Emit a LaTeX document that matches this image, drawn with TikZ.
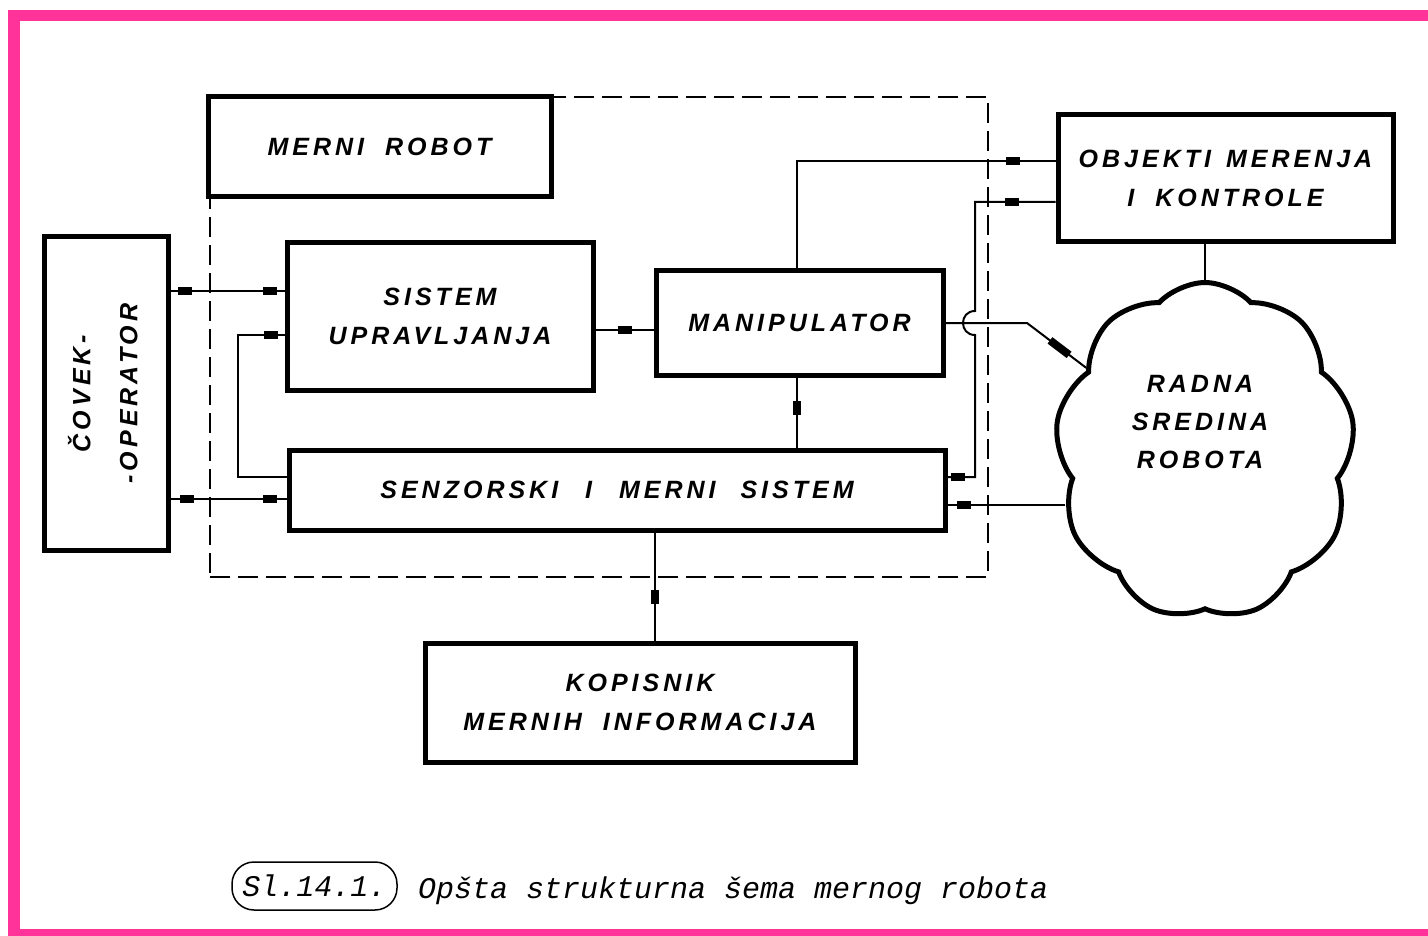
\documentclass[tikz,border=0pt]{standalone}
\usepackage{fontspec}
\setmainfont{Liberation Sans}
\newfontfamily\lblfont[LetterSpace=16]{Liberation Sans}
\newfontfamily\captfont{Liberation Mono}
\usetikzlibrary{shapes.symbols,calc}
\definecolor{framepink}{RGB}{255,51,153}
\tikzset{
  box/.style={draw, line width=5pt, inner sep=0pt, align=center, fill=white,
    font=\lblfont\bfseries\itshape\fontsize{25}{39}\selectfont},
  lbl/.style={inner sep=0pt, align=center, font=\lblfont\bfseries\itshape\fontsize{25}{38}\selectfont},
  conn/.style={line width=2pt},
  mk/.style={fill=black, inner sep=0pt, minimum width=14pt, minimum height=8pt, sloped, allow upside down},
  robframe/.style={draw, line width=2pt, dash pattern=on 20pt off 8pt, inner sep=0pt},
  captstyle/.style={inner sep=0pt, font=\captfont\itshape\fontsize{30}{36}\selectfont},
}
\begin{document}
\begin{tikzpicture}[x=1pt,y=-1pt]
\useasboundingbox (0,0) rectangle (1428,936);
% pink frame
\fill[framepink] (8,10) rectangle (1428,21);
\fill[framepink] (8,10) rectangle (20,936);
\fill[framepink] (8,929) rectangle (1428,936);

% dashed robot frame
\node[robframe, minimum width=778pt, minimum height=480pt] (rob) at (599,337) {};

% boxes
\node[box, minimum width=343pt, minimum height=100pt] (merni) at (379.5,147) {MERNI\hspace{10pt} ROBOT};
\node[box, minimum width=124pt, minimum height=313pt] (covek) at (106,393.5)
  {\rotatebox{90}{\begin{tabular}{@{}c@{}}ČOVEK-\\[8pt]-OPERATOR\end{tabular}}};
\node[box, minimum width=306pt, minimum height=147pt] (sistem) at (440,316.5) {SISTEM\\UPRAVLJANJA};
\node[box, minimum width=287pt, minimum height=104pt] (manip) at (799.5,323) {MANIPULATOR};
\node[box, minimum width=656pt, minimum height=80pt] (senz) at (617,490)
  {SENZORSKI\hspace{16pt} I\hspace{16pt} MERNI\hspace{14pt} SISTEM};
\node[box, minimum width=335pt, minimum height=127pt] (objekti) at (1225.5,178.5)
  {OBJEKTI\hspace{4pt} MERENJA\\I\hspace{10pt} KONTROLE};
\node[box, minimum width=430pt, minimum height=119pt] (kopis) at (640,702.5)
  {KOPISNIK\\MERNIH\hspace{10pt} INFORMACIJA};
\node[cloud, draw, line width=5pt, cloud puffs=9, cloud puff arc=95, aspect=0.9,
  minimum width=300pt, minimum height=337pt, inner sep=0pt, fill=white] (env) at (1205,451) {};
\node[lbl] (envtxt) at (1200,422) {RADNA\\SREDINA\\ROBOTA};

% helper coordinates
\coordinate (yA) at (0,291);
\coordinate (yB) at (0,499);
\coordinate (yC) at (0,477);
\coordinate (yD) at (0,335);
\coordinate (xL) at (238,0);
\coordinate (yE) at (0,330);
\coordinate (xM) at (797,0);
\coordinate (yF) at (0,161);
\coordinate (yG) at (0,202);
\coordinate (xR) at (975,0);
\coordinate (yH) at (0,323);
\coordinate (xK) at (655,0);
\coordinate (kink) at (1027,323);

% connectors
\draw[conn] (covek.east |- yA) -- node[mk,pos=.13]{} node[mk,pos=.87]{} (sistem.west |- yA);
\draw[conn] (covek.east |- yB) -- node[mk,pos=.14]{} node[mk,pos=.86]{} (senz.west |- yB);
\draw[conn] (senz.west |- yC) -- (xL |- yC) -- (xL |- yD) -- node[mk,pos=.7]{} (sistem.west |- yD);
\draw[conn] (sistem.east |- yE) -- node[mk,pos=.5]{} (manip.west |- yE);
\draw[conn] (manip.north -| xM) -- (xM |- yF) -- node[mk,pos=.835]{} (objekti.west |- yF);
\draw[conn] (objekti.west |- yG) -- node[mk,pos=.54]{} (xR |- yG)
  -- ($(xR |- yH)+(0,-12)$) .. controls +(-16,0) and +(-16,0) .. ($(xR |- yH)+(0,12)$)
  -- (xR |- yC) -- node[mk,pos=.63]{} (senz.east |- yC);
\draw[conn] (manip.east |- yH) -- (kink) -- node[mk,pos=.55,minimum width=24pt]{} (env.145);
\draw[conn] (env.201) -- node[mk,pos=.86]{} (senz.east |- env.201);
\draw[conn] (objekti.south -| env.north) -- (env.north);
\draw[conn] (senz.south -| xK) -- node[mk,pos=.6]{} (kopis.north -| xK);
\draw[conn] (manip.south -| xM) -- node[mk,pos=.44]{} (senz.north -| xM);

% caption
\node[captstyle, draw, line width=1.5pt, rounded corners=22pt, minimum width=165pt, minimum height=48pt]
  (capnum) at (314.5,886) {Sl.14.1.};
\node[captstyle, anchor=base west] (captxt) at (418,898) {Opšta strukturna šema mernog robota};
\end{tikzpicture}
\end{document}
